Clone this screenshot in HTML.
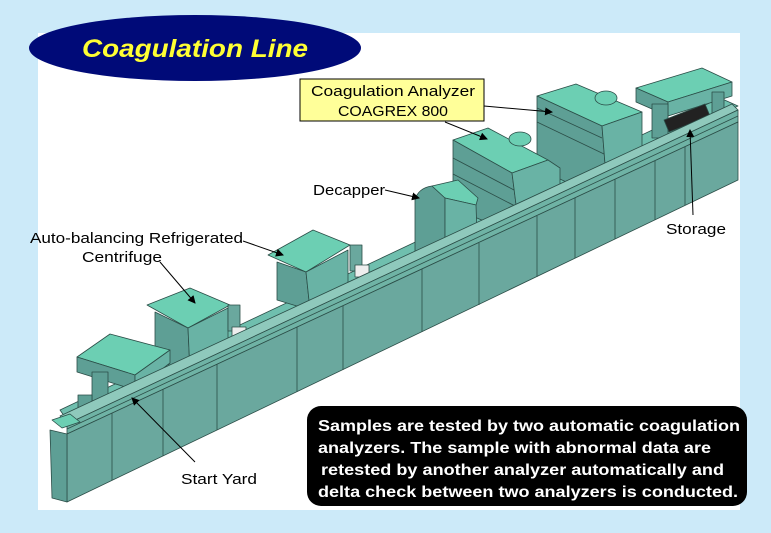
<!DOCTYPE html>
<html><head><meta charset="utf-8"><style>
html,body{margin:0;padding:0;width:771px;height:533px;background:#cceaf9;overflow:hidden}
svg{display:block}
text{font-family:"Liberation Sans",Arial,sans-serif}
</style></head><body>
<svg width="771" height="533" viewBox="0 0 771 533" xmlns="http://www.w3.org/2000/svg">
<defs><marker id="ar" markerWidth="8" markerHeight="8" refX="7" refY="4" orient="auto"><path d="M0,0 L8,4 L0,8 z" fill="#000"/></marker></defs>
<rect x="38" y="33" width="702" height="477" fill="#fff"/>
<g stroke="#2b4d47" stroke-width="0.8" stroke-linejoin="round">
<!-- rear top of body -->
<polygon points="60,410 720,98 738,106 67,420" fill="#6fbfae"/>
<!-- storage unit -->
<polygon points="636,88 702,68 732,82 668,102" fill="#6ccfb3"/>
<polygon points="636,88 668,102 668,116 636,102" fill="#5e9f95"/>
<polygon points="668,102 732,82 732,96 668,116" fill="#69b3a5"/>
<rect x="652" y="104" width="16" height="34" fill="#5e9f95"/>
<rect x="712" y="92" width="12" height="26" fill="#5e9f95"/>
<polygon points="664,120 705,104 710,116 669,132" fill="#222"/>
<!-- analyzer 2 -->
<polygon points="537,96 576,84 642,112 602,126" fill="#6ccfb3"/>
<polygon points="537,96 602,126 608,202 537,168" fill="#5e9f95"/>
<polygon points="602,126 642,112 642,182 608,202" fill="#69b3a5"/>
<line x1="537" y1="108" x2="602" y2="138"/><line x1="537" y1="122" x2="604" y2="154"/>
<ellipse cx="606" cy="98" rx="11" ry="7" fill="#6ccfb3"/>
<!-- analyzer 1 -->
<polygon points="453,140 488,128 548,160 512,173" fill="#6ccfb3"/>
<polygon points="453,140 512,173 520,236 453,208" fill="#5e9f95"/>
<polygon points="512,173 548,160 560,168 560,222 520,236" fill="#69b3a5"/>
<ellipse cx="520" cy="139" rx="11" ry="7" fill="#6ccfb3"/>
<line x1="453" y1="158" x2="514" y2="190"/><line x1="453" y1="174" x2="515" y2="206"/>
<!-- decapper -->
<path d="M415,200 Q418,188 432,186 L445,198 L445,258 Q432,240 425,262 L415,265 Z" fill="#5e9f95"/>
<polygon points="432,186 458,180 478,198 476,205 445,198" fill="#6ccfb3"/>
<polygon points="445,198 476,205 478,262 445,272" fill="#69b3a5"/>
<!-- conveyor strips -->
<polygon points="310,300 438,246 446,256 318,312" fill="#f4f4f4"/>
<polygon points="180,366 300,318 306,328 186,376" fill="#f4f4f4"/>
<!-- centrifuge 2 -->
<polygon points="268,255 313,230 350,245 306,272" fill="#6ccfb3"/>
<polygon points="277,262 306,272 310,310 277,300" fill="#5e9f95"/>
<polygon points="306,272 348,250 348,290 310,310" fill="#69b3a5"/>
<rect x="350" y="245" width="12" height="26" fill="#6aa89e"/>
<rect x="355" y="265" width="14" height="12" fill="#eee"/>
<!-- centrifuge 1 -->
<polygon points="147,305 190,288 230,305 188,328" fill="#6ccfb3"/>
<polygon points="155,312 188,328 190,372 155,360" fill="#5e9f95"/>
<polygon points="188,328 228,308 228,350 190,372" fill="#69b3a5"/>
<rect x="228" y="305" width="12" height="26" fill="#6aa89e"/>
<rect x="232" y="327" width="14" height="12" fill="#eee"/>
<!-- start yard -->
<polygon points="77,357 110,334 170,350 135,375" fill="#6ccfb3"/>
<polygon points="77,357 135,375 135,390 77,372" fill="#5e9f95"/>
<polygon points="135,375 170,350 170,363 135,390" fill="#69b3a5"/>
<rect x="92" y="372" width="16" height="42" fill="#5e9f95"/>
<rect x="78" y="395" width="14" height="22" fill="#5e9f95"/>
<polygon points="106,398 140,383 146,395 112,410" fill="#222"/>
<!-- rail band -->
<polygon points="60,416 732,104 738,110 67,424" fill="#8fc9bc"/>
<polygon points="67,424 738,110 738,122 67,434" fill="#6fb3a5"/>
<line x1="67" y1="429" x2="738" y2="116"/>
<!-- front face -->
<polygon points="67,434 738,122 738,180 67,502" fill="#6aa89e"/>
<polygon points="50,430 67,434 67,502 52,498" fill="#5e9f95"/>
<polygon points="52,420 70,414 80,422 62,428" fill="#6ccfb3"/>
<g fill="none">
<line x1="112" y1="413" x2="112" y2="480"/><line x1="163" y1="389" x2="163" y2="456"/>
<line x1="217" y1="364" x2="217" y2="430"/><line x1="297" y1="327" x2="297" y2="392"/>
<line x1="343" y1="306" x2="343" y2="370"/><line x1="422" y1="269" x2="422" y2="332"/>
<line x1="479" y1="243" x2="479" y2="305"/><line x1="537" y1="216" x2="537" y2="277"/>
<line x1="575" y1="198" x2="575" y2="258"/><line x1="615" y1="179" x2="615" y2="239"/>
<line x1="655" y1="161" x2="655" y2="220"/><line x1="685" y1="147" x2="685" y2="205"/>
</g>
</g>
<!-- title -->
<ellipse cx="195" cy="48" rx="166" ry="33" fill="#000a78"/>
<text x="82" y="57" textLength="226" lengthAdjust="spacingAndGlyphs" font-size="25" font-weight="bold" font-style="italic" fill="#ffff33">Coagulation Line</text>
<!-- labels -->
<rect x="300" y="79" width="184" height="42" fill="#ffff99" stroke="#000" stroke-width="1"/>
<text x="311" y="96" textLength="164" lengthAdjust="spacingAndGlyphs" font-size="15" fill="#000">Coagulation Analyzer</text>
<text x="338" y="116" textLength="110" lengthAdjust="spacingAndGlyphs" font-size="15" fill="#000">COAGREX 800</text>
<g stroke="#000" stroke-width="1" fill="none" marker-end="url(#ar)">
<line x1="484" y1="106" x2="552" y2="112"/>
<line x1="445" y1="122" x2="487" y2="139"/>
<line x1="385" y1="190" x2="419" y2="198"/>
<line x1="243" y1="241" x2="283" y2="255"/>
<line x1="160" y1="262" x2="195" y2="303"/>
<line x1="693" y1="215" x2="690" y2="130"/>
<line x1="195" y1="462" x2="132" y2="398"/>
</g>
<text x="313" y="195" textLength="72" lengthAdjust="spacingAndGlyphs" font-size="15" fill="#000">Decapper</text>
<text x="30" y="243" textLength="213" lengthAdjust="spacingAndGlyphs" font-size="15" fill="#000">Auto-balancing Refrigerated</text>
<text x="82" y="262" textLength="80" lengthAdjust="spacingAndGlyphs" font-size="15" fill="#000">Centrifuge</text>
<text x="666" y="234" textLength="60" lengthAdjust="spacingAndGlyphs" font-size="15" fill="#000">Storage</text>
<text x="181" y="484" textLength="76" lengthAdjust="spacingAndGlyphs" font-size="15" fill="#000">Start Yard</text>
<rect x="307" y="406" width="440" height="100" rx="14" fill="#000"/>
<g font-size="16" font-weight="bold" fill="#fff">
<text x="318" y="431" textLength="422" lengthAdjust="spacingAndGlyphs">Samples are tested by two automatic coagulation</text>
<text x="318" y="453" textLength="393" lengthAdjust="spacingAndGlyphs">analyzers. The sample with abnormal data are</text>
<text x="321" y="475" textLength="403" lengthAdjust="spacingAndGlyphs">retested by another analyzer automatically and</text>
<text x="318" y="497" textLength="420" lengthAdjust="spacingAndGlyphs">delta check between two analyzers is conducted.</text>
</g>
</svg>
</body></html>
